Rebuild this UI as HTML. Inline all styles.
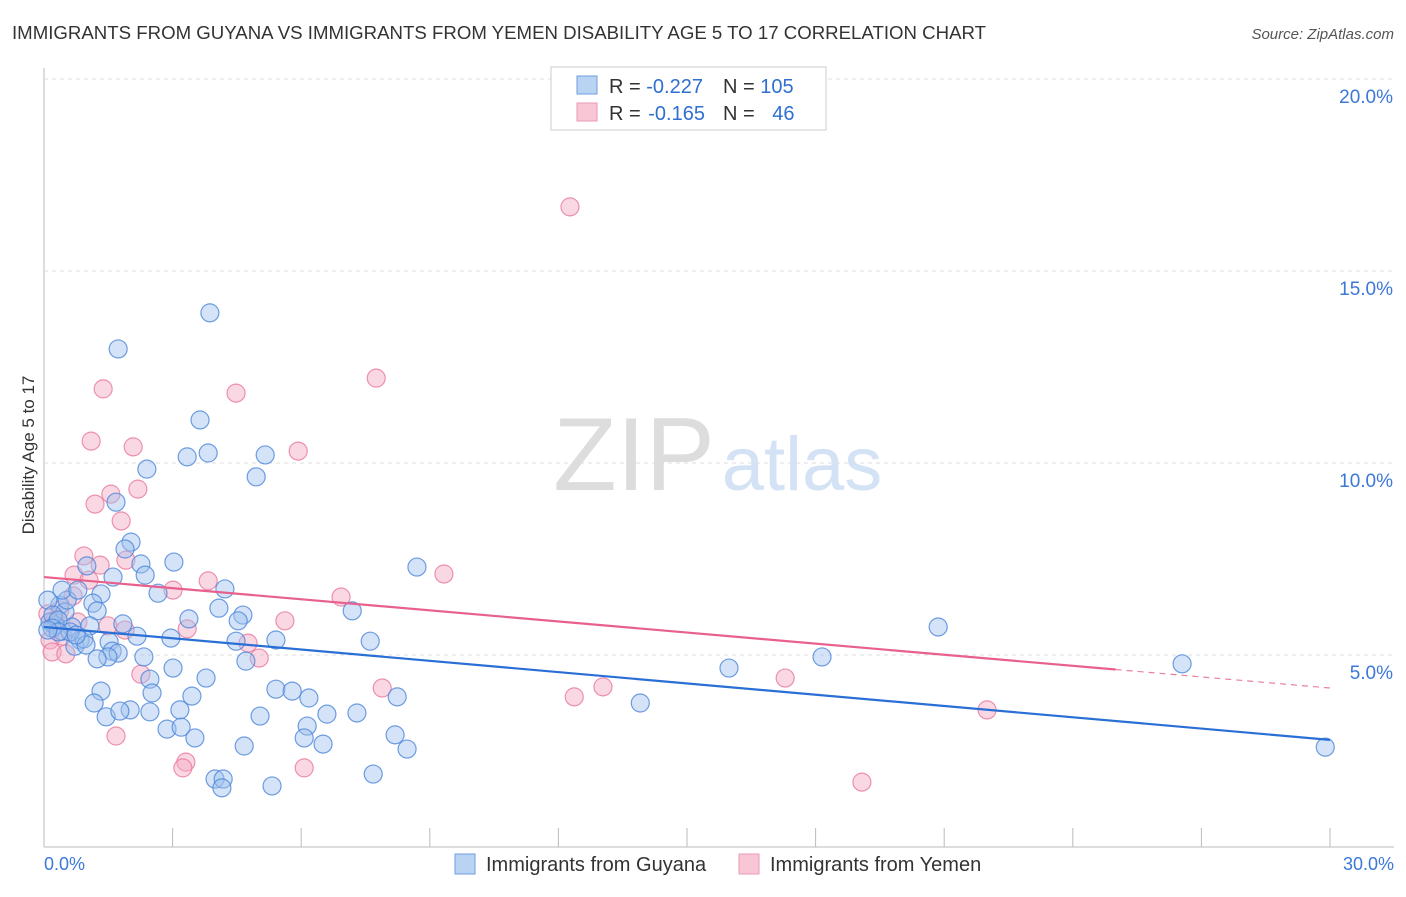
<!DOCTYPE html>
<html><head><meta charset="utf-8"><style>
body{margin:0;background:#fff;font-family:"Liberation Sans",sans-serif}
svg text{font-family:"Liberation Sans",sans-serif}
</style></head><body>
<svg id="chart" width="1406" height="892">
<text x="12" y="39" font-size="18" fill="#333" textLength="974" lengthAdjust="spacingAndGlyphs">IMMIGRANTS FROM GUYANA VS IMMIGRANTS FROM YEMEN DISABILITY AGE 5 TO 17 CORRELATION CHART</text>
<text x="1394" y="39" font-size="15" fill="#555" font-style="italic" text-anchor="end">Source: ZipAtlas.com</text>
<text x="634" y="490" font-size="104" fill="#ddd" font-family="Liberation Serif" text-anchor="middle">ZIP</text>
<text x="802" y="490" font-size="76" fill="#d3e2f5" text-anchor="middle">atlas</text>
<text transform="translate(34,455) rotate(-90)" font-size="17" fill="#333" text-anchor="middle">Disability Age 5 to 17</text>
<g id="grid"></g><g id="pts"></g><g id="lines"></g>
<g>
<rect x="551" y="67" width="275" height="63" fill="#fff" stroke="#ccc"/>
<rect x="577" y="76" width="20" height="18" fill="#b9d3f3" stroke="#6f9ee0"/>
<rect x="577" y="103" width="20" height="18" fill="#f8c6d4" stroke="#ec9ab4"/>
<text x="609" y="93" font-size="20" fill="#333">R = <tspan fill="#2f6fd1">-0.227</tspan><tspan dx="20">N = </tspan><tspan fill="#2f6fd1">105</tspan></text>
<text x="609" y="120" font-size="20" fill="#333">R = <tspan fill="#2f6fd1" dx="2">-0.165</tspan><tspan dx="18">N = </tspan><tspan fill="#2f6fd1" dx="12">46</tspan></text>
</g>
<g>
<rect x="455" y="854" width="20" height="20" fill="#b9d3f3" stroke="#6f9ee0"/>
<text x="486" y="871" font-size="20" fill="#333">Immigrants from Guyana</text>
<rect x="739" y="854" width="20" height="20" fill="#f8c6d4" stroke="#ec9ab4"/>
<text x="770" y="871" font-size="20" fill="#333">Immigrants from Yemen</text>
</g>
<text x="44" y="870" font-size="18" fill="#3b78d8">0.0%</text>
<text x="1394" y="870" font-size="18" fill="#3b78d8" text-anchor="end">30.0%</text>
</svg>
<script>
const yTicks=[5,10,15,20];
const xTickVals=[0,3,6,9,12,15,18,21,24,27,30];
const blueX=[1.73,3.87,3.64,3.34,3.83,5.16,4.95,2.40,1.68,2.03,1.89,2.26,3.03,2.36,1.61,1.00,2.66,1.33,4.22,8.70,1.14,1.24,4.08,4.64,7.19,4.53,3.38,1.84,1.07,0.37,0.49,0.54,0.09,0.26,0.42,0.65,0.84,0.72,0.93,1.52,1.59,1.73,1.49,1.24,2.17,2.96,4.48,5.41,7.61,2.33,4.71,3.01,2.47,3.78,2.52,1.33,3.45,5.41,5.79,6.18,8.24,13.91,1.17,1.45,2.01,1.77,2.47,3.17,5.04,6.60,7.30,2.87,3.20,3.52,6.14,6.07,8.19,4.67,6.51,8.47,3.99,4.18,4.15,5.32,7.68,15.98,18.15,20.86,26.55,29.89,0.14,0.21,0.33,0.61,0.19,0.98,0.33,0.09,0.75,0.42,0.79];
const blueY=[12.97,13.91,11.12,10.16,10.26,10.21,9.64,9.84,8.98,7.94,7.76,7.37,7.42,7.08,7.03,7.32,6.61,6.59,6.72,7.29,6.35,6.15,6.22,6.04,6.15,5.89,5.94,5.81,5.76,6.30,6.12,6.43,6.43,5.78,5.62,5.73,5.39,5.23,5.42,5.34,5.10,5.05,4.95,4.90,5.49,5.44,5.36,5.39,5.36,4.95,4.84,4.66,4.37,4.40,4.01,4.06,3.93,4.11,4.06,3.88,3.91,3.75,3.75,3.39,3.57,3.54,3.52,3.57,3.41,3.46,3.49,3.07,3.12,2.84,3.15,2.84,2.92,2.63,2.68,2.55,1.77,1.77,1.54,1.59,1.90,4.66,4.95,5.73,4.77,2.60,5.86,6.04,5.91,5.60,5.70,5.26,5.60,5.65,5.52,6.69,6.69];
const pinkX=[12.27,7.75,1.38,4.48,1.10,2.08,5.93,2.19,1.56,1.19,1.80,0.93,1.91,1.31,0.70,1.05,9.33,3.83,3.01,6.93,5.62,0.68,1.49,1.89,3.34,4.76,5.02,0.14,0.19,0.51,7.89,12.37,13.04,17.29,22.00,2.26,1.68,3.31,3.24,6.07,19.08,0.26,0.37,0.79,0.09,0.44];
const pinkY=[16.67,12.21,11.93,11.82,10.57,10.42,10.31,9.32,9.19,8.93,8.49,7.58,7.47,7.34,7.08,6.95,7.11,6.93,6.69,6.51,5.89,6.54,5.76,5.65,5.68,5.31,4.92,5.39,5.08,5.03,4.14,3.91,4.17,4.40,3.57,4.50,2.89,2.21,2.06,2.06,1.69,5.91,6.17,5.86,6.07,5.49];
const blueTrend=[5.73,2.79];
const pinkTrend=[7.03,4.14];
const pinkSolidEnd=25;
const NS='http://www.w3.org/2000/svg';
const X=v=>44+v*(1330-44)/30, Y=v=>847-v*38.4;
function mk(t,a,p){const e=document.createElementNS(NS,t);for(const k in a)e.setAttribute(k,a[k]);p.appendChild(e);return e;}
const grid=document.getElementById('grid');
mk('line',{x1:44,y1:68,x2:44,y2:847,stroke:'#bbb'},grid);
mk('line',{x1:44,y1:847,x2:1394,y2:847,stroke:'#bbb'},grid);
yTicks.forEach(t=>{
 const l=mk('line',{x1:44,y1:Y(t),x2:1394,y2:Y(t),stroke:'#ddd','stroke-dasharray':'4,4'},grid);
 
 
 const tx=mk('text',{x:1393,y:Y(t)+24,'font-size':19,fill:'#3b78d8','text-anchor':'end'},grid);
 tx.textContent=t.toFixed(1)+'%';
 
 
});
xTickVals.forEach(t=>{
 const l=mk('line',{x1:X(t),y1:828,x2:X(t),y2:847,stroke:'#bbb'},grid);
 
 
});
const pts=document.getElementById('pts');
function dots(xs,ys,fill,stroke,name){xs.forEach((x,i)=>{
 const c=mk('circle',{cx:X(x),cy:Y(ys[i]),r:9,fill:fill,'fill-opacity':0.45,stroke:stroke,'stroke-opacity':0.8,'stroke-width':1.2},pts);
 
 
});}
dots(pinkX,pinkY,'#f4a9c0','#e8789c','point-yemen');
dots(blueX,blueY,'#9fc2ee','#4c86da','point-guyana');
const lines=document.getElementById('lines');
const b=mk('line',{x1:X(0),y1:Y(blueTrend[0]),x2:X(30),y2:Y(blueTrend[1]),stroke:'#2a6fd6','stroke-width':2.2},lines);


const pe=pinkTrend[0]+(pinkTrend[1]-pinkTrend[0])*pinkSolidEnd/30;
const p=mk('line',{x1:X(0),y1:Y(pinkTrend[0]),x2:X(pinkSolidEnd),y2:Y(pe),stroke:'#e8608e','stroke-width':2.2},lines);


const pd=mk('line',{x1:X(pinkSolidEnd),y1:Y(pe),x2:X(30),y2:Y(pinkTrend[1]),stroke:'#e8809e','stroke-width':1.2,'stroke-dasharray':'6,5'},lines);


</script>
</body></html>
